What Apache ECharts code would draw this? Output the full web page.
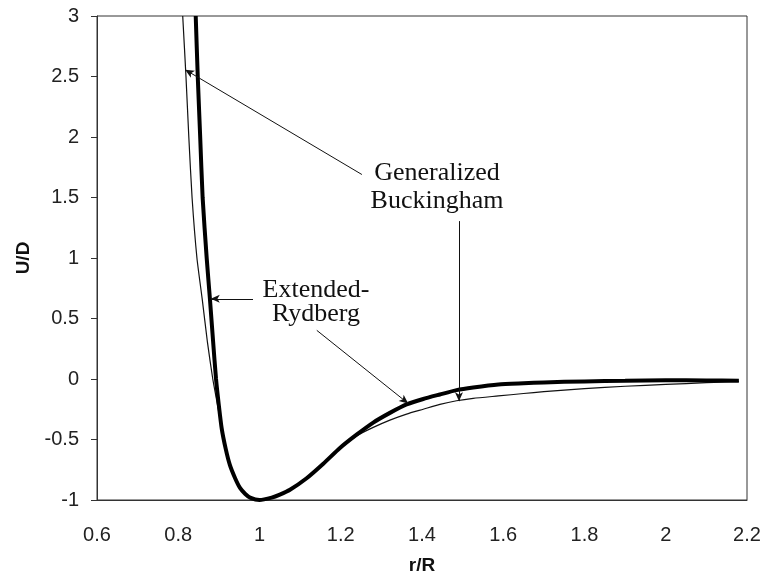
<!DOCTYPE html>
<html>
<head>
<meta charset="utf-8">
<script src="https://cdn.jsdelivr.net/npm/echarts@6/dist/echarts.min.js"></script>
<style>
  html, body { margin: 0; padding: 0; background: #fff; }
  #chart { width: 767px; height: 580px; }
</style>
</head>
<body>
<div id="chart"></div>
<script>
// Extended-Rydberg (thick curve)
const erX = [0.843, 0.848, 0.854, 0.860, 0.870, 0.878, 0.886, 0.893, 0.900, 0.907, 0.917, 0.927, 0.940, 0.952, 0.965, 0.977, 1.0, 1.03, 1.05, 1.075, 1.116, 1.157, 1.198, 1.239, 1.28, 1.321, 1.362, 1.403, 1.444, 1.485, 1.526, 1.588, 1.65, 1.7, 1.8, 1.9, 2.0, 2.1, 2.18]
const erY = [3.0, 2.5, 2.0, 1.5, 1.0, 0.66, 0.3, 0, -0.22, -0.41, -0.58, -0.71, -0.82, -0.90, -0.95, -0.98, -1.0, -0.98, -0.955, -0.915, -0.82, -0.70, -0.57, -0.46, -0.36, -0.28, -0.21, -0.165, -0.128, -0.092, -0.07, -0.045, -0.035, -0.028, -0.02, -0.015, -0.01, -0.012, -0.015]

// Generalized Buckingham (thin curve)
const gbX = [0.811, 0.819, 0.826, 0.834, 0.846, 0.859, 0.872, 0.885, 0.897, 0.907, 0.917, 0.927, 0.940, 0.952, 0.965, 0.977, 1.0, 1.03, 1.075, 1.116, 1.157, 1.198, 1.239, 1.28, 1.321, 1.362, 1.403, 1.444, 1.485, 1.526, 1.588, 1.65, 1.7, 1.8, 1.9, 2.0, 2.1, 2.18]
const gbY = [3.0, 2.5, 2.0, 1.5, 1.0, 0.66, 0.3, 0, -0.22, -0.41, -0.58, -0.71, -0.82, -0.90, -0.95, -0.98, -1.0, -0.98, -0.915, -0.82, -0.70, -0.57, -0.47, -0.40, -0.34, -0.29, -0.25, -0.21, -0.18, -0.16, -0.14, -0.12, -0.105, -0.08, -0.06, -0.045, -0.03, -0.02]

// annotation arrows [from, to] in data coords
const arrows = [
  [[1.252, 1.69], [0.817, 2.556]],
  [[1.491, 1.305], [1.491, -0.183]],
  [[0.984, 0.663], [0.880, 0.663]],
  [[1.141, 0.402], [1.366, -0.202]]
]

const zip = (xs, ys) => xs.map((x, i) => [x, ys[i]])

const chart = echarts.init(document.getElementById('chart'))

const option = {
  animation: false,
  backgroundColor: '#fff',
  grid: {
    left: 97,
    right: 20,
    top: 16,
    bottom: 79,
    show: true,
    borderColor: '#333',
    borderWidth: 1
  },
  xAxis: {
    type: 'value',
    min: 0.6,
    max: 2.2,
    interval: 0.2,
    name: 'r/R',
    nameLocation: 'middle',
    nameGap: 56,
    nameTextStyle: { fontFamily: 'Liberation Sans', fontSize: 19, fontWeight: 'bold', color: '#111' },
    axisLine: { show: true, onZero: false, lineStyle: { color: '#333', width: 1 } },
    axisTick: { show: false },
    splitLine: { show: false },
    axisLabel: { fontFamily: 'Liberation Sans', fontSize: 20, color: '#222', margin: 25 }
  },
  yAxis: {
    type: 'value',
    min: -1,
    max: 3,
    interval: 0.5,
    name: 'U/D',
    nameLocation: 'middle',
    nameGap: 62,
    nameRotate: 90,
    nameTextStyle: { fontFamily: 'Liberation Sans', fontSize: 19, fontWeight: 'bold', color: '#111' },
    axisLine: { show: true, onZero: false, lineStyle: { color: '#333', width: 1 } },
    axisTick: { show: true, length: 6, lineStyle: { color: '#333' } },
    splitLine: { show: false },
    axisLabel: { fontFamily: 'Liberation Sans', fontSize: 20, color: '#222', margin: 18 }
  },
  series: [
    {
      name: 'Generalized Buckingham',
      type: 'line',
      data: zip(gbX, gbY),
      showSymbol: false,
      smooth: 0.2,
      lineStyle: { color: '#111', width: 1.2 },
      z: 2
    },
    {
      name: 'Extended-Rydberg',
      type: 'line',
      data: zip(erX, erY),
      showSymbol: false,
      smooth: 0.2,
      lineStyle: { color: '#000', width: 4 },
      z: 3
    },
    {
      name: 'arrows',
      type: 'line',
      data: [],
      markLine: {
        silent: true,
        symbol: ['none', 'arrow'],
        symbolSize: [6, 9],
        label: { show: false },
        lineStyle: { color: '#111', width: 1, type: 'solid' },
        data: arrows.map(a => [{ coord: a[0] }, { coord: a[1] }])
      },
      z: 4
    }
  ],
  graphic: [
    {
      type: 'text',
      x: 437,
      y: 187,
      style: {
        text: 'Generalized\nBuckingham',
        fontFamily: 'Liberation Serif',
        fontSize: 26,
        lineHeight: 28,
        fill: '#111',
        align: 'center',
        verticalAlign: 'middle'
      }
    },
    {
      type: 'text',
      x: 316,
      y: 302,
      style: {
        text: 'Extended-\nRydberg',
        fontFamily: 'Liberation Serif',
        fontSize: 26,
        lineHeight: 24,
        fill: '#111',
        align: 'center',
        verticalAlign: 'middle'
      }
    }
  ]
}

chart.setOption(option)
</script>
</body>
</html>
